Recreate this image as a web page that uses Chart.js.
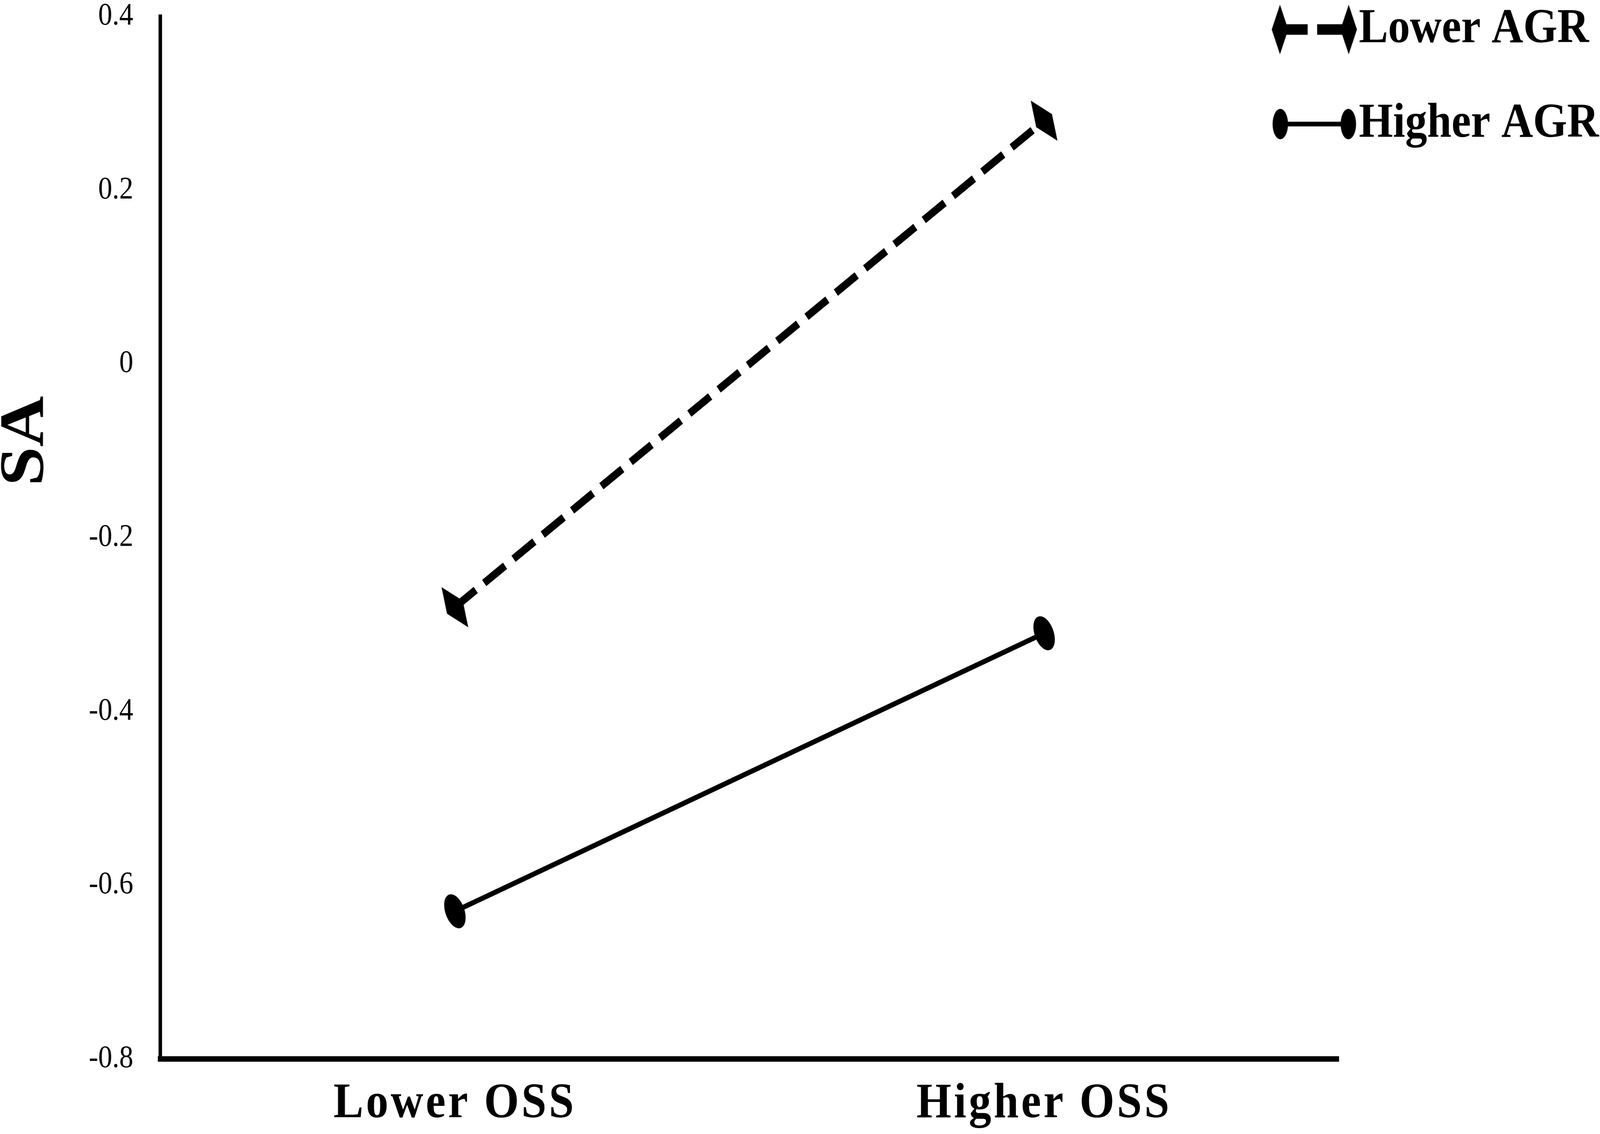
<!DOCTYPE html>
<html>
<head>
<meta charset="utf-8">
<title>SA by OSS and AGR</title>
<script src="https://cdn.jsdelivr.net/npm/chart.js@4.4.0/dist/chart.umd.min.js"></script>
<style>
  html, body { margin: 0; padding: 0; background: #fff; overflow: hidden; }
  canvas { display: block; background: #fff; }
</style>
</head>
<body>
<!-- drawn at 4562x2902, shown stretched to the window -->
<canvas id="chart" width="4562" height="2902" style="width:100vw;height:100vh"></canvas>
<script>
// data
const categories = ['Lower OSS', 'Higher OSS'];
const lowerAGR = [-0.28, 0.28];
const higherAGR = [-0.63, -0.31];
const seriesNames = ['Lower AGR', 'Higher AGR'];
const yTickLabels = ['-0.8', '-0.6', '-0.4', '-0.2', '0', '0.2', '0.4'];

const serif = "'Liberation Serif', 'Times New Roman', serif";

function makeImg(w, h, draw) {
    const c = document.createElement('canvas');
    c.width = w;
    c.height = h;
    const g = c.getContext('2d');
    g.fillStyle = '#000';
    draw(g, w, h);
    return c;
}

function diamond(g, cx, cy, w, h) {
    g.beginPath();
    g.moveTo(cx, cy - h / 2);
    g.lineTo(cx + w / 2, cy);
    g.lineTo(cx, cy + h / 2);
    g.lineTo(cx - w / 2, cy);
    g.closePath();
    g.fill();
}

function oval(g, cx, cy, w, h) {
    g.beginPath();
    g.ellipse(cx, cy, w / 2, h / 2, 0, 0, Math.PI * 2);
    g.fill();
}

// end caps of the lines (tall diamond / tall oval)
const diamondMark = makeImg(56, 128, (g, w, h) => diamond(g, w / 2, h / 2, w, h));
const ovalMark = makeImg(56, 94, (g, w, h) => oval(g, w / 2, h / 2, w - 2, h - 2));

// legend symbols: line with a marker at each end
const legendSymbols = [
    makeImg(250, 130, (g, w, h) => {
        g.fillRect(40, h / 2 - 13.5, 66, 27);
        g.fillRect(133, h / 2 - 13.5, 80, 27);
        diamond(g, 27, h / 2, 47, 127);
        diamond(g, 223, h / 2, 47, 127);
    }),
    makeImg(250, 130, (g, w, h) => {
        g.fillRect(30, h / 2 - 6, 190, 12);
        oval(g, 28, h / 2, 44, 78);
        oval(g, 222, h / 2, 44, 78);
    })
];

// turn each end cap across its own line
function capAngle(ctx) {
    const xs = ctx.chart.scales.x;
    const ys = ctx.chart.scales.y;
    if (!xs || !ys) return 0;
    const d = ctx.dataset.data;
    const dx = xs.getPixelForValue(1) - xs.getPixelForValue(0);
    const dy = ys.getPixelForValue(d[1]) - ys.getPixelForValue(d[0]);
    const a = Math.atan2(dy, dx) * 180 / Math.PI;
    return isFinite(a) ? a : 0;
}

function noPad(s) {
    s.paddingTop = 0;
    s.paddingBottom = 0;
    s.paddingLeft = 0;
    s.paddingRight = 0;
}

// legend in the top right corner over the plot, spaced-out category labels
const tweaks = {
    id: 'tweaks',
    afterLayout(chart) {
        const lg = chart.legend;
        if (lg) {
            lg.left = 3566;
            lg.top = -104;
            lg.right = chart.width;
            lg.bottom = chart.height;
        }
        const xs = chart.scales.x;
        if (xs && !xs._spaced) {
            const drawLabels = xs.drawLabels;
            xs.drawLabels = function (area) {
                const c = this.ctx;
                c.save();
                c.letterSpacing = '7px';
                drawLabels.call(this, area);
                c.restore();
            };
            xs._spaced = true;
        }
    }
};

new Chart(document.getElementById('chart'), {
    type: 'line',
    data: {
        labels: categories,
        datasets: [
            {
                label: seriesNames[0],
                data: lowerAGR,
                borderColor: '#000',
                backgroundColor: '#000',
                borderWidth: 20,
                borderDash: [74, 30],
                borderCapStyle: 'butt',
                fill: false,
                tension: 0,
                pointStyle: diamondMark,
                pointRotation: capAngle
            },
            {
                label: seriesNames[1],
                data: higherAGR,
                borderColor: '#000',
                backgroundColor: '#000',
                borderWidth: 13,
                fill: false,
                tension: 0,
                pointStyle: ovalMark,
                pointRotation: capAngle
            }
        ]
    },
    options: {
        responsive: false,
        devicePixelRatio: 1,
        animation: false,
        events: [],
        layout: {
            autoPadding: false,
            padding: { top: 42, right: 745, bottom: 0, left: 0 }
        },
        scales: {
            x: {
                type: 'category',
                offset: true,
                grid: { display: false, drawTicks: false },
                border: { display: true, color: '#000', width: 14 },
                ticks: {
                    color: '#000',
                    padding: 39,
                    maxRotation: 0,
                    font: { family: serif, size: 128, weight: 'bold' }
                },
                afterFit: s => { s.height = 192; noPad(s); }
            },
            y: {
                min: -0.8,
                max: 0.4,
                grid: { display: false, drawTicks: false },
                border: { display: true, color: '#000', width: 10 },
                ticks: {
                    stepSize: 0.2,
                    color: '#000',
                    padding: 77,
                    font: { family: serif, size: 80 },
                    callback: (v, i) => yTickLabels[i]
                },
                title: {
                    display: true,
                    text: ' '.repeat(11) + 'SA',
                    color: '#000',
                    padding: { top: 3, bottom: 0 },
                    font: { family: serif, size: 180, weight: 'bold', lineHeight: 0.8 }
                },
                afterFit: s => { s.width = 457; noPad(s); }
            }
        },
        plugins: {
            legend: {
                display: true,
                position: 'chartArea',
                fullSize: false,
                align: 'start',
                labels: {
                    usePointStyle: true,
                    pointStyleWidth: 129,
                    padding: 117,
                    color: '#000',
                    font: { family: serif, size: 125, weight: 'bold' },
                    generateLabels: chart => Chart.defaults.plugins.legend.labels.generateLabels(chart)
                        .map((item, i) => Object.assign(item, { pointStyle: legendSymbols[i], rotation: 0 }))
                }
            },
            tooltip: { enabled: false }
        }
    },
    plugins: [tweaks]
});
</script>
</body>
</html>
